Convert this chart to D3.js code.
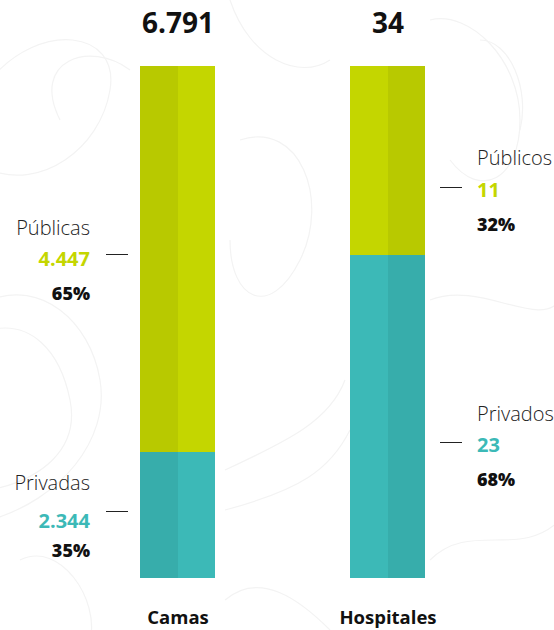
<!DOCTYPE html>
<html>
<head>
<meta charset="utf-8">
<script src="https://cdn.jsdelivr.net/npm/d3@7"></script>
<style>
  html, body { margin: 0; padding: 0; background: #fff; }
  svg { display: block; }
  text { font-family: "Open Sans", "Noto Sans", sans-serif; }
</style>
</head>
<body>
<svg id="chart" width="554" height="630"></svg>
<script>
// ---- data ----
const categories = ["Camas", "Hospitales"];
const totalLabels = ["6.791", "34"];
const publicNames = ["Públicas", "Públicos"];
const privateNames = ["Privadas", "Privados"];
const publicValueLabels = ["4.447", "11"];
const privateValueLabels = ["2.344", "23"];
const publicPct = ["65%", "32%"];
const privatePct = ["35%", "68%"];
// share of each bar filled by the private segment, as drawn in the picture
const privateDrawnShare = [0.246, 0.631];

// ---- layout ----
const barTop = 66, barBottom = 578;
const green = "#c4d600", greenDark = "#b8c900";
const teal = "#3cb9b7", tealDark = "#37adab";

const svg = d3.select("#chart");

const x = d3.scalePoint().domain(categories).range([178, 388]);
const y = d3.scaleLinear().domain([0, 1]).range([barBottom, barTop]);

// faint background contours (decoration)
const deco = svg.append("g").attr("fill", "none").attr("stroke", "#f3f3f3").attr("stroke-width", 1.2);
const curves = [
  "M-10,80 C40,20 120,30 110,90 C100,150 40,190 -10,170",
  "M60,120 C30,60 90,40 130,70",
  "M-10,300 C40,280 90,320 100,380 C110,440 60,500 -10,520",
  "M-10,330 C30,320 60,350 70,400 C80,450 40,480 -10,490",
  "M230,0 C250,60 300,80 330,60",
  "M240,140 C300,120 330,200 300,260 C270,320 230,300 230,240",
  "M225,470 C290,440 330,420 345,380",
  "M225,510 C300,490 330,470 350,430",
  "M430,20 C470,10 520,60 520,120 C520,180 480,200 450,160",
  "M480,40 C510,40 530,90 520,130",
  "M430,300 C480,280 540,330 560,300",
  "M430,560 C470,520 520,560 560,520",
  "M20,560 C60,540 100,600 90,640",
  "M225,600 C260,570 300,600 330,630"
];
deco.selectAll("path").data(curves).join("path").attr("d", d => d);

// bars
const rows = categories.map((c, i) => ({ cat: c, i, priv: privateDrawnShare[i] }));

const g = svg.append("g").attr("shape-rendering", "crispEdges");
rows.forEach(r => {
  const cx = Math.round(x(r.cat));
  const x0 = cx - 38, x1 = cx + 37;
  const split = Math.round(y(r.priv));
  const darkLeft = r.i === 0;
  const segs = [
    { y0: y(1), y1: split, light: green, dark: greenDark },
    { y0: split, y1: y(0), light: teal, dark: tealDark }
  ];
  segs.forEach(s => {
    g.append("rect").attr("x", x0).attr("y", s.y0).attr("width", cx - x0).attr("height", s.y1 - s.y0)
      .attr("fill", darkLeft ? s.dark : s.light);
    g.append("rect").attr("x", cx).attr("y", s.y0).attr("width", x1 - cx).attr("height", s.y1 - s.y0)
      .attr("fill", darkLeft ? s.light : s.dark);
  });
  svg.append("text").attr("x", cx).attr("y", 33).attr("text-anchor", "middle")
    .attr("font-size", 28).attr("font-weight", 700).attr("fill", "#111")
    .text(totalLabels[r.i]);
  svg.append("text").attr("x", cx).attr("y", 624).attr("text-anchor", "middle")
    .attr("font-size", 18.5).attr("font-weight", 700).attr("fill", "#111")
    .text(r.cat);
});

// annotations
function annotate(opts) {
  const { side, dashY, name, value, pct, color, nameDy, valDy, pctDy } = opts;
  const a = svg.append("g");
  let tx, anchor, dx0, dx1;
  if (side === "left") { tx = 90; anchor = "end"; dx0 = 106; dx1 = 128; }
  else { tx = 477; anchor = "start"; dx0 = 440; dx1 = 462; }
  a.append("line").attr("x1", dx0).attr("x2", dx1).attr("y1", dashY + 0.5).attr("y2", dashY + 0.5)
    .attr("stroke", "#222").attr("stroke-width", 1);
  a.append("text").attr("x", tx).attr("y", dashY + nameDy)
    .attr("text-anchor", anchor).attr("font-size", 20).attr("font-weight", 300).attr("fill", "#222")
    .text(name);
  a.append("text").attr("x", tx).attr("y", dashY + valDy)
    .attr("text-anchor", anchor).attr("font-size", 20).attr("font-weight", 700).attr("fill", color)
    .text(value);
  a.append("text").attr("x", tx).attr("y", dashY + pctDy)
    .attr("text-anchor", anchor).attr("font-size", 18).attr("font-weight", 800).attr("fill", "#111")
    .text(pct);
}

const camPubMid = (y(1) + y(privateDrawnShare[0])) / 2;
const camPrivMid = (y(privateDrawnShare[0]) + y(0)) / 2;
annotate({ side: "left", dashY: Math.round(camPubMid - 5), name: publicNames[0], value: publicValueLabels[0],
  pct: publicPct[0], color: green, nameDy: -19, valDy: 12, pctDy: 46 });
annotate({ side: "left", dashY: Math.round(camPrivMid - 4), name: privateNames[0], value: privateValueLabels[0],
  pct: privatePct[0], color: teal, nameDy: -21, valDy: 17, pctDy: 46 });

const hosPubMid = (y(1) + y(privateDrawnShare[1])) / 2;
const hosPrivMid = (y(privateDrawnShare[1]) + y(0)) / 2;
annotate({ side: "right", dashY: Math.round(hosPubMid + 27), name: publicNames[1], value: publicValueLabels[1],
  pct: publicPct[1], color: green, nameDy: -22, valDy: 10, pctDy: 44 });
annotate({ side: "right", dashY: Math.round(hosPrivMid + 26), name: privateNames[1], value: privateValueLabels[1],
  pct: privatePct[1], color: teal, nameDy: -21, valDy: 10, pctDy: 44 });
</script>
</body>
</html>
